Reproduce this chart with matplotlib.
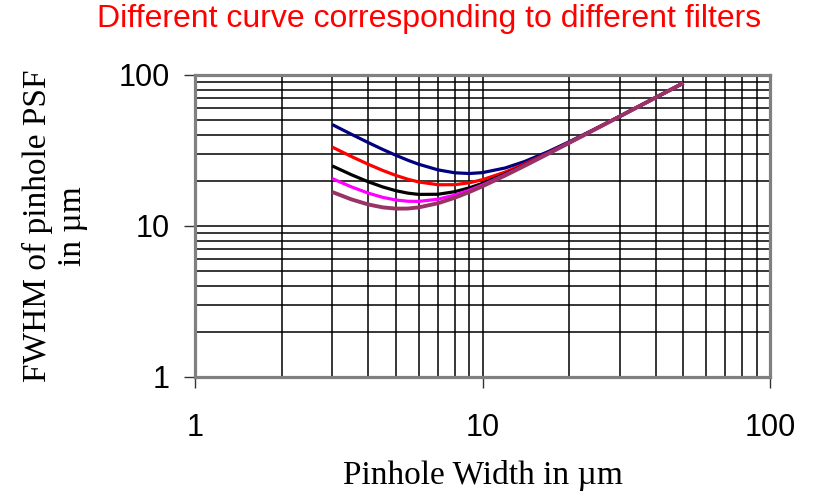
import matplotlib
matplotlib.use('Agg')
import matplotlib.pyplot as plt
from matplotlib.ticker import LogLocator, NullFormatter, FixedLocator

# pinhole width (um) and FWHM of the pinhole PSF (um), one series per filter
width = [3, 3.5, 4, 4.5, 5, 5.5, 6, 7, 8, 9, 10, 12, 14, 17, 20, 25, 30, 40, 50]
fwhm_navy = [46.97, 40.48, 35.71, 32.11, 29.37, 27.25, 25.64, 23.53, 22.51, 22.26,
             22.57, 24.23, 26.72, 31.20, 36.09, 44.60, 53.30, 70.89, 88.54]
fwhm_red = [33.29, 28.84, 25.65, 23.31, 21.61, 20.40, 19.57, 18.76, 18.77, 19.33,
            20.26, 22.77, 25.76, 30.64, 35.74, 44.43, 53.20, 70.84, 88.52]
fwhm_black = [25.00, 21.84, 19.64, 18.13, 17.12, 16.50, 16.19, 16.22, 16.87, 17.89,
              19.16, 22.10, 25.33, 30.40, 35.59, 44.35, 53.16, 70.82, 88.51]
fwhm_magenta = [20.60, 18.15, 16.52, 15.47, 14.86, 14.58, 14.55, 15.04, 16.01, 17.26,
                18.68, 21.82, 25.14, 30.29, 35.53, 44.31, 53.14, 70.82, 88.51]
fwhm_plum = [16.79, 15.00, 13.89, 13.28, 13.03, 13.05, 13.28, 14.15, 15.37, 16.79,
             18.33, 21.61, 25.01, 30.22, 35.48, 44.29, 53.12, 70.81, 88.51]

series = [(fwhm_navy, '#000080', 2.3),
          (fwhm_red, '#ff0000', 2.3),
          (fwhm_black, '#000000', 2.3),
          (fwhm_magenta, '#ff00ff', 2.3),
          (fwhm_plum, '#993366', 2.8)]

fig = plt.figure(figsize=(8.13, 4.93), dpi=100)
ax = fig.add_axes([0.2399, 0.2353, 0.7072, 0.6126])

for y, c, lw in series:
    ax.plot(width, y, color=c, lw=lw, solid_capstyle='butt', zorder=3)

ax.set_xscale('log')
ax.set_yscale('log')
ax.set_xlim(1, 100)
ax.set_ylim(1, 100)

ax.xaxis.set_major_locator(FixedLocator([1, 10, 100]))
ax.yaxis.set_major_locator(FixedLocator([1, 10, 100]))
ax.xaxis.set_minor_locator(LogLocator(base=10, subs=range(2, 10)))
ax.yaxis.set_minor_locator(LogLocator(base=10, subs=range(2, 10)))
ax.xaxis.set_minor_formatter(NullFormatter())
ax.yaxis.set_minor_formatter(NullFormatter())
ax.set_xticklabels(['1', '10', '100'])
ax.set_yticklabels(['1', '10', '100'])

ax.grid(True, which='both', color='black', lw=1.1, zorder=1)
ax.tick_params(which='major', direction='out', length=8, width=1.0, color='#333333',
               labelsize=22)
ax.tick_params(axis='x', which='major', pad=18)
ax.tick_params(axis='y', which='major', pad=10)
ax.tick_params(which='minor', length=0)
for lab in ax.get_xticklabels() + ax.get_yticklabels():
    lab.set_family('Liberation Sans')

for s in ax.spines.values():
    s.set_color('#808080')
    s.set_linewidth(2.3)
    s.set_zorder(4)

ax.set_xlabel('Pinhole Width in µm', family='Liberation Serif', fontsize=24, labelpad=12)
ax.set_ylabel('FWHM of pinhole PSF\nin µm', family='Liberation Serif', fontsize=24,
              linespacing=1.2, labelpad=22)

fig.text(0.528, 0.961, 'Different curve corresponding to different filters',
         color='#ff0000', family='Liberation Sans', fontsize=23, ha='center', va='center')

fig.savefig('out.png', dpi=100)
